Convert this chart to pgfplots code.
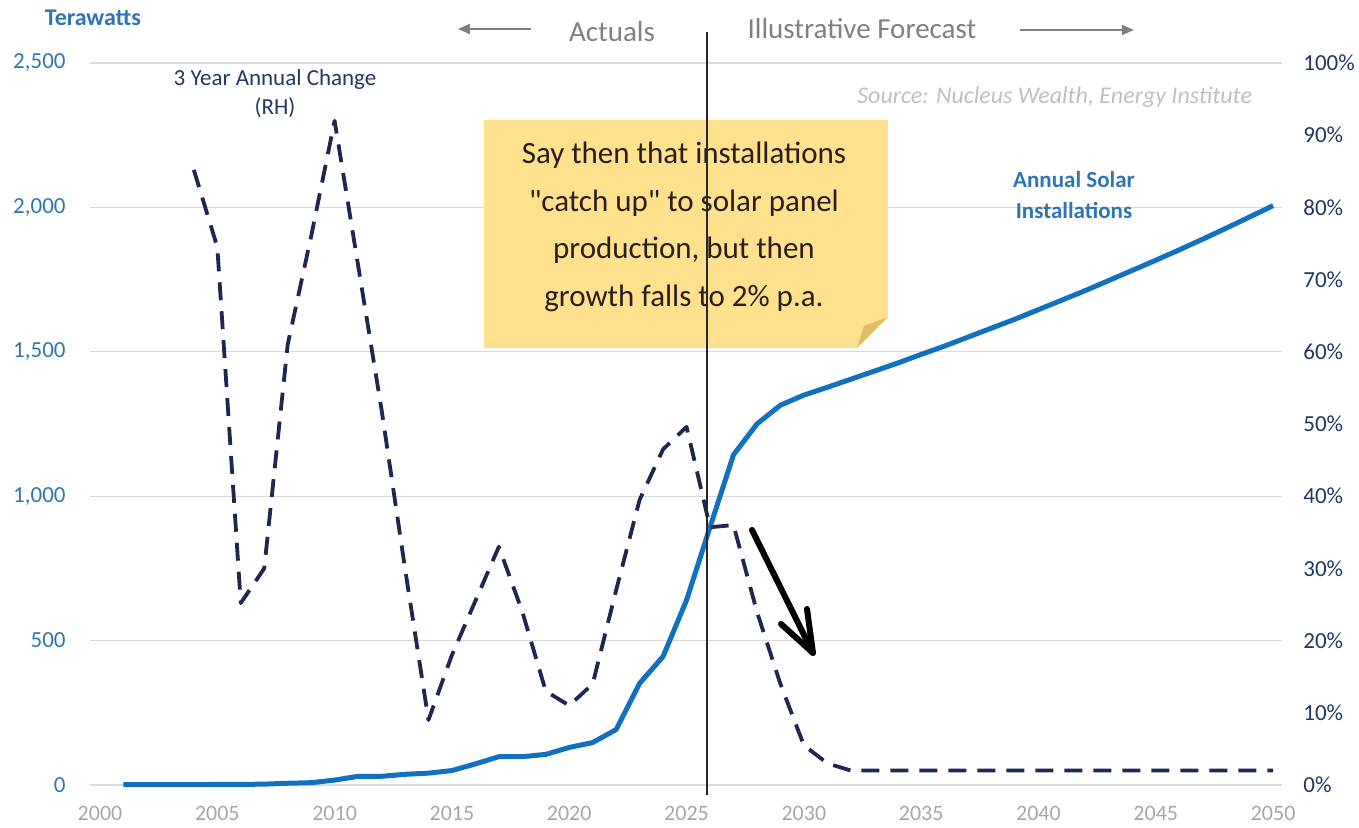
\documentclass[border=0pt]{standalone}
\usepackage{fontspec}
\setmainfont{Carlito}
\usepackage{pgfplots}
\pgfplotsset{compat=1.18}
\usetikzlibrary{arrows.meta}

\definecolor{solarblue}{RGB}{18,112,192}
\definecolor{navy}{RGB}{28,40,82}
\definecolor{lblue}{RGB}{46,117,182}
\definecolor{rnavy}{RGB}{31,56,100}
\definecolor{xgray}{RGB}{166,166,166}
\definecolor{gridgray}{RGB}{217,217,217}
\definecolor{midgray}{RGB}{128,128,128}
\definecolor{srcgray}{RGB}{191,191,191}
\definecolor{note}{RGB}{255,224,140}
\definecolor{notefold}{RGB}{222,190,100}
\definecolor{notetext}{RGB}{40,32,24}

\newcommand{\fs}[1]{\fontsize{#1}{1.2\dimexpr#1\relax}\selectfont}

\begin{document}
\begin{tikzpicture}
\useasboundingbox (0,0) rectangle (679.5bp,414bp);

% left axis: solar installations
\begin{axis}[
  at={(45bp,21.5bp)}, anchor=south west,
  scale only axis, width=596bp, height=361bp,
  xmin=1999.574, xmax=2050.38,
  ymin=0, ymax=2500,
  axis line style={draw=none},
  major tick length=0pt,
  xtick={2000,2005,...,2050},
  ytick={0,500,...,2500},
  ymajorgrids, grid style={gridgray, line width=0.6bp},
  /pgf/number format/assume math mode=true,
  x tick label style={/pgf/number format/1000 sep={}, font=\fs{11bp}, text=xgray, inner sep=0pt, yshift=-10.5bp},
  y tick label style={/pgf/number format/1000 sep={,}, font=\fs{11.5bp}, text=lblue, inner sep=0pt, xshift=-12bp},
  clip=false,
]
\addplot[solarblue, line width=2.5bp, line join=round] table {
2001 1
2002 1
2003 1
2004 1
2005 2
2006 2
2007 3
2008 6
2009 8
2010 17
2011 30
2012 30
2013 37
2014 41
2015 50
2016 73
2017 98
2018 98
2019 106
2020 130
2021 147
2022 192
2023 352
2024 445
2025 640
2026 893
2027 1143
2028 1250
2029 1315
2030 1350
2031 1377
2032 1405
2033 1433
2034 1461
2035 1491
2036 1520
2037 1551
2038 1582
2039 1613
2040 1646
2041 1679
2042 1712
2043 1747
2044 1782
2045 1817
2046 1853
2047 1890
2048 1928
2049 1967
2050 2006
};
\end{axis}

% right axis: 3 year annual change
\begin{axis}[
  at={(45bp,21.5bp)}, anchor=south west,
  scale only axis, width=596bp, height=361bp,
  xmin=1999.574, xmax=2050.38,
  ymin=0, ymax=100,
  axis x line=none,
  axis y line*=right,
  y axis line style={draw=none},
  major tick length=0pt,
  ytick={0,10,...,100},
  yticklabel={\pgfmathprintnumber{\tick}\%},
  /pgf/number format/assume math mode=true,
  y tick label style={font=\fs{11.5bp}, text=rnavy, inner sep=0pt, xshift=10.5bp},
  clip=false,
]
\addplot[navy, line width=1.9bp, dash pattern=on 9bp off 5.5bp, line join=round] table {
2004 85.2
2005 74.5
2006 25.2
2007 30
2008 61
2009 76
2010 92
2011 72
2012 52
2013 30
2014 9
2015 18
2016 25.5
2017 33
2018 24
2019 13
2020 11
2021 14
2022 27
2023 39.5
2024 46.5
2025 49.6
2026 35.7
2027 36
2028 24
2029 14
2030 5.5
2031 3
2032 2
2033 2
2034 2
2035 2
2036 2
2037 2
2038 2
2039 2
2040 2
2041 2
2042 2
2043 2
2044 2
2045 2
2046 2
2047 2
2048 2
2049 2
2050 2
};
\end{axis}

% annotations in pixel coordinates of the reference
\begin{scope}[x=0.5bp, y=-0.5bp, yshift=414bp]
  % sticky note
  \fill[note] (484,120) -- (888,120) -- (888,317) -- (857,348) -- (484,348) -- cycle;
  \fill[notefold] (888,317) -- (857,348) -- (864,326) -- cycle;
  \node[text=notetext, font=\fs{15.5bp}, align=center] at (684,155) {Say then that installations};
  \node[text=notetext, font=\fs{15.5bp}, align=center] at (684,203) {\textquotedbl catch up\textquotedbl{} to solar panel};
  \node[text=notetext, font=\fs{15.5bp}, align=center] at (684,250) {production, but then};
  \node[text=notetext, font=\fs{15.5bp}, align=center] at (684,298) {growth falls to 2\% p.a.};

  % vertical divider
  \draw[black!85, line width=0.8bp] (707,32) -- (707,795);

  % titles
  \node[text=lblue, font=\bfseries\fs{12bp}] at (93,18) {Terawatts};
  \node[text=rnavy, font=\fs{11.5bp}] at (275,80) {3 Year Annual Change};
  \node[text=rnavy, font=\fs{11.5bp}] at (275,108) {(RH)};
  \node[text=lblue, font=\bfseries\fs{11.5bp}] at (1074,180) {Annual Solar};
  \node[text=lblue, font=\bfseries\fs{11.5bp}] at (1074,211) {Installations};
  \node[text=srcgray, font=\itshape\fs{12bp}, anchor=east] at (1259,97) {Source: Nucleus Wealth, Energy Institute};

  % actuals / forecast
  \node[text=midgray, font=\fs{14.5bp}] at (612,32) {Actuals};
  \node[text=midgray, font=\fs{14.5bp}] at (862,29) {Illustrative Forecast};
  \draw[midgray, line width=1bp, -{Triangle[length=6bp, width=5bp]}] (531,29) -- (458,29);
  \draw[midgray, line width=1bp, -{Triangle[length=6bp, width=5bp]}] (1020,30) -- (1134,30);

  % black hand-drawn arrow
  \draw[black, line width=3bp, line cap=round, line join=round] (752,530) -- (813,653);
  \draw[black, line width=3bp, line cap=round, line join=round] (781,624) -- (813,653) -- (807,609);
\end{scope}
\end{tikzpicture}
\end{document}
